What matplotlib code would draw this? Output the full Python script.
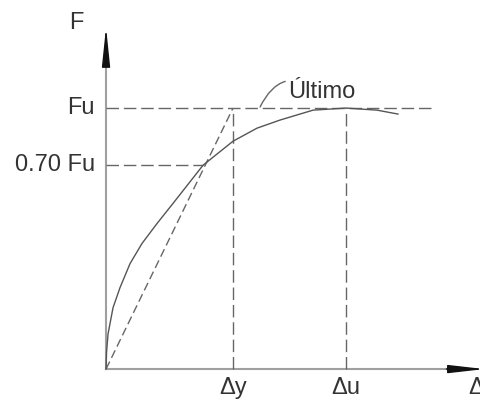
import numpy as np
import matplotlib.pyplot as plt

# Curva fuerza-desplazamiento (valores normalizados: Dy = 1, Fu = 1)
desp = [0.0, 0.004, 0.016, 0.055, 0.110, 0.189, 0.283, 0.402, 0.528, 0.764,
        1.0, 1.189, 1.37, 1.63, 1.89, 2.134, 2.299]
fuerza = [0.0, 0.065, 0.135, 0.235, 0.312, 0.404, 0.481, 0.558, 0.635, 0.781,
          0.873, 0.923, 0.954, 0.992, 1.0, 0.992, 0.977]

Dy = 1.0
Du = 1.89
Fu = 1.0
F70 = 0.781
x_fin_fu = 2.567
x_eje = 2.98
y_eje = 1.31

plt.rcParams['font.family'] = ['Liberation Sans', 'DejaVu Sans']

fig = plt.figure(figsize=(4.8, 4.03), dpi=100)
ax = fig.add_axes([0, 0, 1, 1])
ax.set_xlim(-0.835, 2.945)
ax.set_ylim(-0.130, 1.414)
ax.axis('off')

gris_eje = '#a0a0a0'
gris = '#666666'
texto = '#333333'
rayas = (0, (9, 3.5))

# Ejes con flecha
ax.plot([0, 0], [0, y_eje - 0.1], color=gris_eje, lw=1.5)
ax.plot([0, x_eje - 0.2], [0, 0], color=gris_eje, lw=1.5)
ax.annotate('', xy=(0, y_eje), xytext=(0, y_eje - 0.15), annotation_clip=False,
            arrowprops=dict(arrowstyle='-|>,head_length=2.4,head_width=0.25',
                            color='#111111', lw=1.0, shrinkA=0, shrinkB=0))
ax.annotate('', xy=(x_eje, 0), xytext=(x_eje - 0.3, 0), annotation_clip=False,
            arrowprops=dict(arrowstyle='-|>,head_length=2.2,head_width=0.25',
                            color='#111111', lw=1.0, shrinkA=0, shrinkB=0))

# Lineas auxiliares punteadas
ax.plot([0, x_fin_fu], [Fu, Fu], color=gris, lw=1.0, linestyle=rayas)
ax.plot([0, 0.764], [F70, F70], color=gris, lw=1.0, linestyle=rayas)
ax.plot([Dy, Dy], [0, Fu], color=gris, lw=1.0, linestyle=rayas)
ax.plot([Du, Du], [0, Fu], color=gris, lw=1.0, linestyle=rayas)
ax.plot([0, Dy], [0, Fu], color=gris, lw=1.0, linestyle=(0, (6, 3)))

# Curva
ax.plot(desp, fuerza, color='#555555', lw=1.0)

# Etiquetas
fs = 17
ax.text(-0.236, 1.326, 'F', fontsize=fs, color=texto, ha='center', va='center')
ax.text(-0.087, Fu, 'Fu', fontsize=fs, color=texto, ha='right', va='center')
ax.text(-0.087, F70, '0.70 Fu', fontsize=fs, color=texto, ha='right', va='center')
ax.text(Dy, -0.073, 'Δy', fontsize=fs, color=texto, ha='center', va='center')
ax.text(Du, -0.073, 'Δu', fontsize=fs, color=texto, ha='center', va='center')
ax.text(2.85, -0.073, 'Δ', fontsize=fs, color=texto, ha='left', va='center')
ax.annotate('Último', xy=(1.213, 1.004), xytext=(1.433, 1.061),
            fontsize=fs, color=texto, ha='left', va='center',
            arrowprops=dict(arrowstyle='-', color=gris, lw=1.0,
                            connectionstyle='arc3,rad=0.6', shrinkA=0, shrinkB=0))

fig.savefig('out.png', dpi=100)
